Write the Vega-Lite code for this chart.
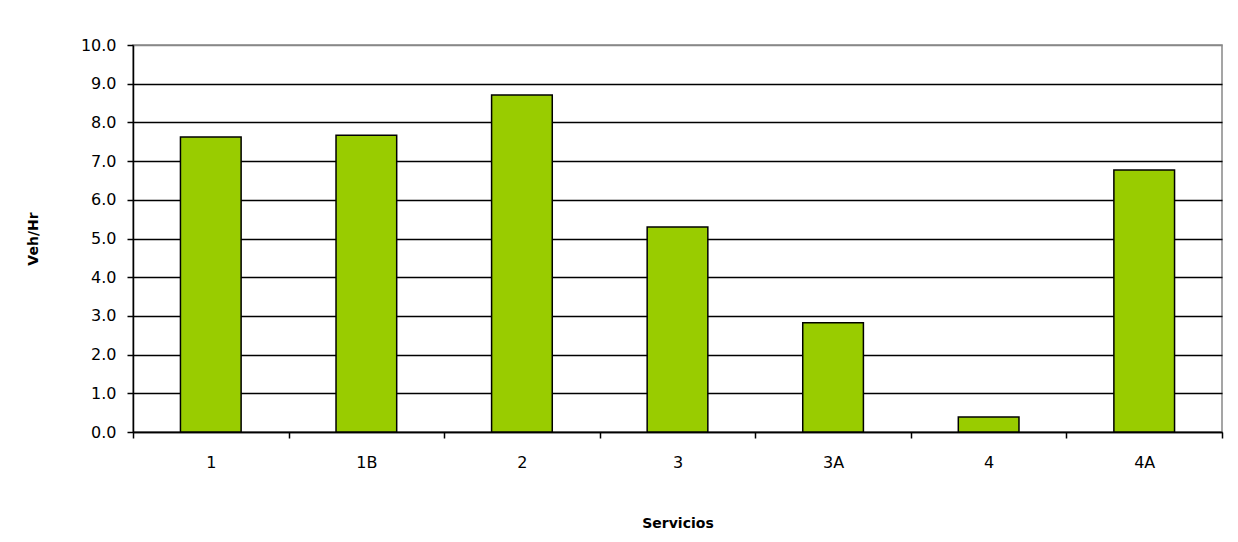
{
  "$schema": "https://vega.github.io/schema/vega-lite/v6.json",
  "width": 1089,
  "height": 387,
  "autosize": {"type": "none"},
  "padding": {"left": 133, "top": 45, "right": 16, "bottom": 110},
  "background": "white",
  "config": {
    "view": {"stroke": "#888888", "strokeWidth": 1.5},
    "font": "DejaVu Sans"
  },
  "data": {
    "values": [
      {"servicio": "1", "veh": 7.62},
      {"servicio": "1B", "veh": 7.67},
      {"servicio": "2", "veh": 8.71},
      {"servicio": "3", "veh": 5.30},
      {"servicio": "3A", "veh": 2.82},
      {"servicio": "4", "veh": 0.39},
      {"servicio": "4A", "veh": 6.77}
    ]
  },
  "mark": {"type": "bar", "fill": "#99CC00", "stroke": "black", "strokeWidth": 1.5, "width": {"band": 0.39}},
  "encoding": {
    "x": {
      "field": "servicio",
      "type": "nominal",
      "sort": null,
      "scale": {"paddingInner": 0, "paddingOuter": 0},
      "axis": {
        "title": "Servicios",
        "titleFont": "DejaVu Sans",
        "titleFontSize": 14,
        "titleFontWeight": "bold",
        "titleColor": "black",
        "titlePadding": 46,
        "labelAngle": 0,
        "labelFont": "DejaVu Sans",
        "labelFontSize": 16,
        "labelColor": "black",
        "labelPadding": 16,
        "tickBand": "extent",
        "tickColor": "black",
        "tickSize": 6,
        "tickWidth": 1.5,
        "domainColor": "black",
        "domainWidth": 1.5,
        "grid": false
      }
    },
    "y": {
      "field": "veh",
      "type": "quantitative",
      "scale": {"domain": [0, 10], "nice": false},
      "axis": {
        "title": "Veh/Hr",
        "titleFont": "DejaVu Sans",
        "titleFontSize": 14,
        "titleFontWeight": "bold",
        "titleColor": "black",
        "titlePadding": 40,
        "values": [0, 1, 2, 3, 4, 5, 6, 7, 8, 9, 10],
        "format": ".1f",
        "labelFont": "DejaVu Sans",
        "labelFontSize": 16,
        "labelColor": "black",
        "labelPadding": 11,
        "tickColor": "black",
        "tickSize": 6,
        "tickWidth": 1.5,
        "domainColor": "black",
        "domainWidth": 1.5,
        "grid": true,
        "gridColor": {"condition": {"test": "datum.value == 10", "value": "#888888"}, "value": "black"},
        "gridWidth": 1.5
      }
    }
  }
}
